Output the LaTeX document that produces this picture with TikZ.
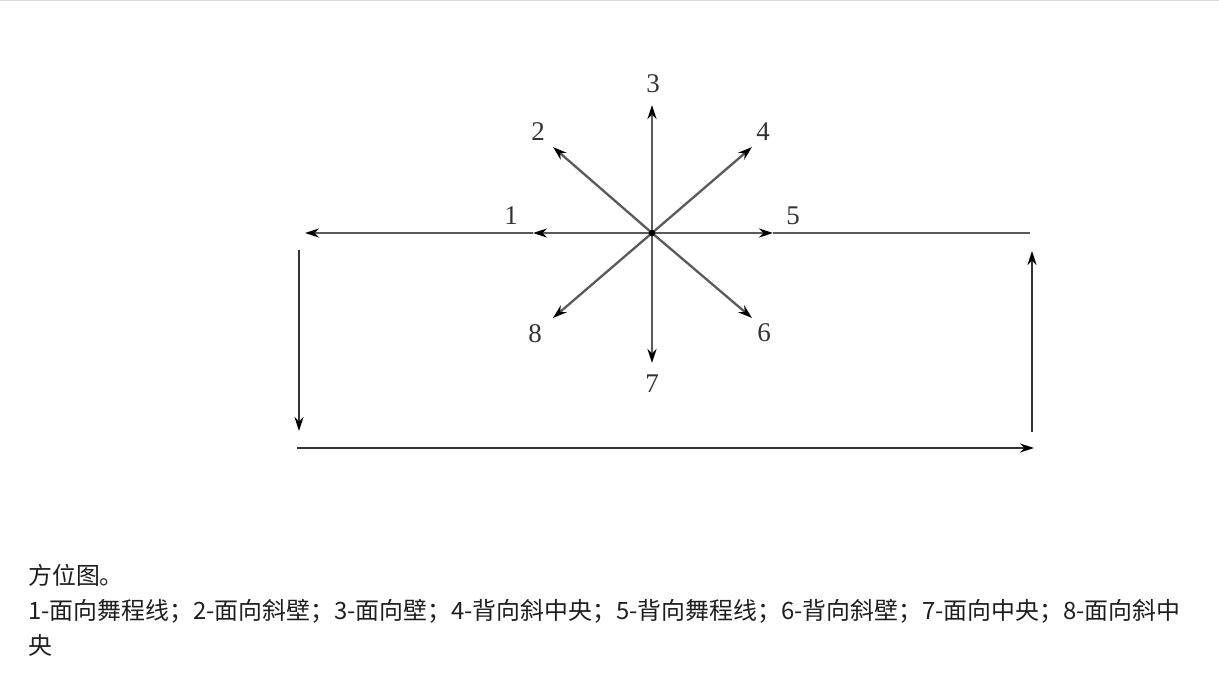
\documentclass[tikz,border=0pt]{standalone}
\usepackage{fontspec}
\setmainfont{Liberation Serif}
\newfontfamily\cjk{Noto Sans CJK SC}
\usetikzlibrary{arrows.meta}
\definecolor{lngray}{HTML}{5A5A5A}
\definecolor{capcol}{HTML}{1E1E1E}
\tikzset{
  ln/.style={line width=2.3pt, draw=lngray},
  dk/.style={line width=2.1pt, draw=black!80},
  tip/.style={-{Stealth[length=14pt,width=9pt,color=black]}},
  num/.style={font=\fontsize{27}{27}\selectfont, text=black!80, inner sep=0pt},
  captext/.style={font=\cjk\fontsize{23.9}{23.9}\selectfont, text=capcol, inner sep=0pt, anchor=base west}
}
\begin{document}
\begin{tikzpicture}[x=1pt,y=-1pt]
\useasboundingbox (0,0) rectangle (1219,678);
\draw[black!15, line width=1.2pt] (0,0.6) -- (1219,0.6);

\coordinate (O) at (652,233);
\coordinate (m1) at (533,233);
\coordinate (e1) at (305,233);
\coordinate (m5) at (773,233);
\coordinate (e5) at (1030,233);
\coordinate (e3) at (652,105);
\coordinate (e7) at (652,363);
\coordinate (e2) at (553,147);
\coordinate (e4) at (752,147);
\coordinate (e8) at (553,318);
\coordinate (e6) at (752,318);

\draw[ln,tip] (O) -- (m1);
\draw[ln,tip] (m1) -- (e1);
\draw[ln,tip] (O) -- (m5);
\draw[ln] (m5) -- (e5);
\draw[ln,tip] (O) -- (e3);
\draw[ln,tip] (O) -- (e7);
\draw[ln,tip] (O) -- (e2);
\draw[ln,tip] (O) -- (e4);
\draw[ln,tip] (O) -- (e8);
\draw[ln,tip] (O) -- (e6);
\fill[black] (O) circle (3.2pt);

\node[num] (n1) at (511,216) {1};
\node[num] (n2) at (538,132) {2};
\node[num] (n3) at (653,84) {3};
\node[num] (n4) at (763,132) {4};
\node[num] (n5) at (793,216) {5};
\node[num] (n6) at (764,333) {6};
\node[num] (n7) at (652,384) {7};
\node[num] (n8) at (535,334) {8};

\coordinate (la) at (299,250);
\coordinate (lb) at (299,431);
\coordinate (ba) at (297,448);
\coordinate (bb) at (1034,448);
\coordinate (ra) at (1032,432);
\coordinate (rb) at (1032,251);
\draw[dk,tip] (la) -- (lb);
\draw[dk,tip] (ba) -- (bb);
\draw[dk,tip] (ra) -- (rb);

\node[captext] (c1) at (28,584) {方位图。};
\node[captext] (c2) at (28,619) {1-面向舞程线；2-面向斜壁；3-面向壁；4-背向斜中央；5-背向舞程线；6-背向斜壁；7-面向中央；8-面向斜中};
\node[captext] (c3) at (28,654) {央};
\end{tikzpicture}
\end{document}
